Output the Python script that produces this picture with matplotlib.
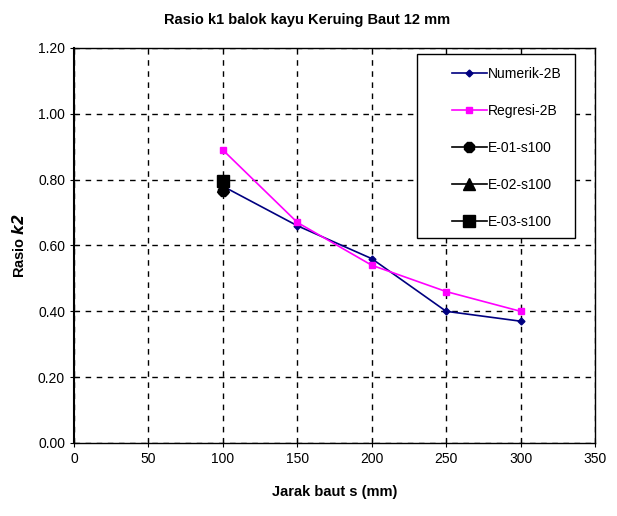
import matplotlib
matplotlib.use("Agg")
import matplotlib.pyplot as plt
from matplotlib.lines import Line2D
from matplotlib.patches import Rectangle

# data
jarak = [100, 150, 200, 250, 300]
numerik_2b = [0.78, 0.66, 0.56, 0.40, 0.37]
regresi_2b = [0.89, 0.67, 0.54, 0.46, 0.40]
exp_x = [100]
e01_s100 = [0.765]
e02_s100 = [0.78]
e03_s100 = [0.795]

x_ticks = [0, 50, 100, 150, 200, 250, 300, 350]
y_ticks = [0.0, 0.2, 0.4, 0.6, 0.8, 1.0, 1.2]

plt.rcParams["font.family"] = ["Liberation Sans", "DejaVu Sans"]

fig = plt.figure(figsize=(6.17, 5.16), dpi=100)
ax = fig.add_axes([0.12, 0.1415, 0.8444, 0.7655])

ax.plot(jarak, numerik_2b, color="#000080", lw=1.2, marker="D", ms=3.5, label="Numerik-2B", zorder=3)
ax.plot(jarak, regresi_2b, color="#ff00ff", lw=1.2, marker="s", ms=5, label="Regresi-2B", zorder=3)
ax.plot(exp_x, e01_s100, color="black", lw=1.2, marker="8", ms=8, ls="none", label="E-01-s100", zorder=4)
ax.plot(exp_x, e02_s100, color="black", lw=1.2, marker="^", ms=8, ls="none", label="E-02-s100", zorder=4)
ax.plot(exp_x, e03_s100, color="black", lw=1.2, marker="s", ms=8, ls="none", label="E-03-s100", zorder=4)

ax.set_xlim(0, 350)
ax.set_ylim(0, 1.2)
ax.set_xticks(x_ticks)
ax.set_yticks(y_ticks)
ax.set_yticklabels([f"{v:.2f}" for v in y_ticks])
ax.tick_params(labelsize=10, direction="inout", length=6, color="black")
ax.grid(True, color="black", ls=(0, (4, 4)), lw=1)
ax.set_axisbelow(True)
for sp in ax.spines.values():
    sp.set_color("black")
    sp.set_linewidth(1)
ax.spines["left"].set_linewidth(1.5)

ax.set_xlabel("Jarak baut s (mm)", fontsize=10.5, fontweight="bold", labelpad=14)
ax.set_ylabel("Rasio $\\mathbfit{k2}$", fontsize=10.5, fontweight="bold", labelpad=8)
fig.suptitle("Rasio k1 balok kayu Keruing Baut 12 mm", x=0.497, y=0.975, fontsize=10.5, fontweight="bold")

# legend box drawn separately so the entries can sit to the right like the original
ax.add_patch(Rectangle((0.658, 0.519), 0.304, 0.466, transform=ax.transAxes,
                       facecolor="white", edgecolor="black", lw=1, zorder=5))

handles = [
    Line2D([], [], color="#000080", lw=1.2, marker="D", ms=3.5),
    Line2D([], [], color="#ff00ff", lw=1.2, marker="s", ms=5),
    Line2D([], [], color="black", lw=1.2, marker="8", ms=8),
    Line2D([], [], color="black", lw=1.2, marker="^", ms=8),
    Line2D([], [], color="black", lw=1.2, marker="s", ms=8),
]
labels = ["Numerik-2B", "Regresi-2B", "E-01-s100", "E-02-s100", "E-03-s100"]
leg = ax.legend(handles, labels, loc="upper left", bbox_to_anchor=(0.7255, 0.952),
                fontsize=10, labelspacing=1.65, handlelength=2.5, handletextpad=0.1,
                borderpad=0, borderaxespad=0, frameon=False)
leg.set_zorder(6)

fig.savefig("out.png", dpi=100)
